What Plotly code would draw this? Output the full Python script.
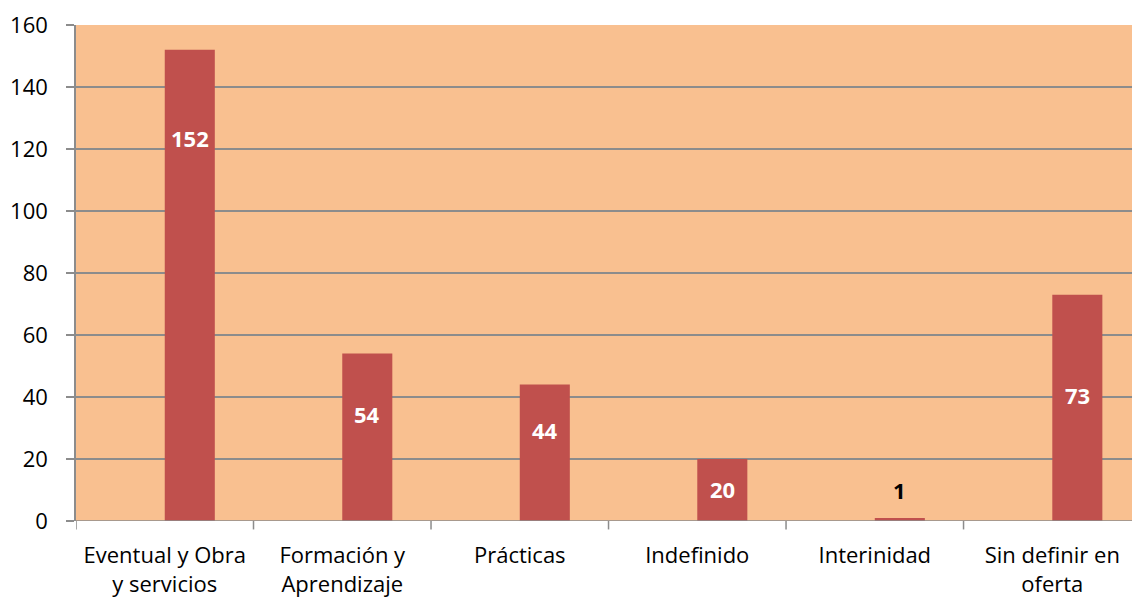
import plotly.graph_objects as go

# Contract types and number of offers
categories = ["Eventual y Obra<br>y servicios", "Formación y<br>Aprendizaje", "Prácticas",
              "Indefinido", "Interinidad", "Sin definir en<br>oferta"]
values = [152, 54, 44, 20, 1, 73]
y_ticks = [0, 20, 40, 60, 80, 100, 120, 140, 160]

# Vertical placement of each value label (data units)
label_y = [123.5, 34.5, 29.5, 10.3, 10, 40.8]
label_colors = ["white", "white", "white", "white", "black", "white"]

BAR_W = 0.282
x_idx = list(range(len(categories)))
FONT = "Open Sans, Liberation Sans, sans-serif"

fig = go.Figure()
fig.add_trace(go.Bar(
    x=x_idx, y=values, width=BAR_W, offset=0,
    marker=dict(color="#C0504D", line=dict(width=0)),
    hoverinfo="skip",
))

for i, (v, ly, c) in enumerate(zip(values, label_y, label_colors)):
    fig.add_annotation(
        x=i + BAR_W / 2, y=ly, text=f"<b>{v}</b>", showarrow=False,
        font=dict(family=FONT, size=22, color=c),
        xanchor="center", yanchor="middle",
    )

fig.update_layout(
    width=1132, height=599,
    margin=dict(l=76, r=0, t=25, b=78),
    paper_bgcolor="white", plot_bgcolor="#F9C090",
    showlegend=False,
    font=dict(family=FONT, size=22, color="black"),
)
fig.update_xaxes(
    range=[-0.5, 5.449], tickmode="array", tickvals=x_idx, ticktext=categories,
    showgrid=False, zeroline=False, showline=False,
    ticks="", tickfont=dict(size=22), ticklabelstandoff=19,
)
fig.update_yaxes(
    range=[0, 160], tickvals=y_ticks, showgrid=True, gridcolor="#8C8C8C", gridwidth=1.5,
    zeroline=False, showline=True, linecolor="#8C8C8C", linewidth=1.5,
    ticks="outside", ticklen=8, tickcolor="#8C8C8C", tickwidth=1.5,
    tickfont=dict(size=22), ticklabelstandoff=14,
)

# Category boundary tick marks below the base line
for b in [k - 0.5 for k in range(len(categories) + 1)]:
    fig.add_shape(type="line", xref="x", yref="paper", x0=b, x1=b, y0=0, y1=-0.017,
                  line=dict(color="#8C8C8C", width=1.5))
fig.add_shape(type="line", xref="paper", yref="y", x0=0, x1=1, y0=0, y1=0,
              line=dict(color="#8C8C8C", width=1.5))

fig.write_html("out.html")
